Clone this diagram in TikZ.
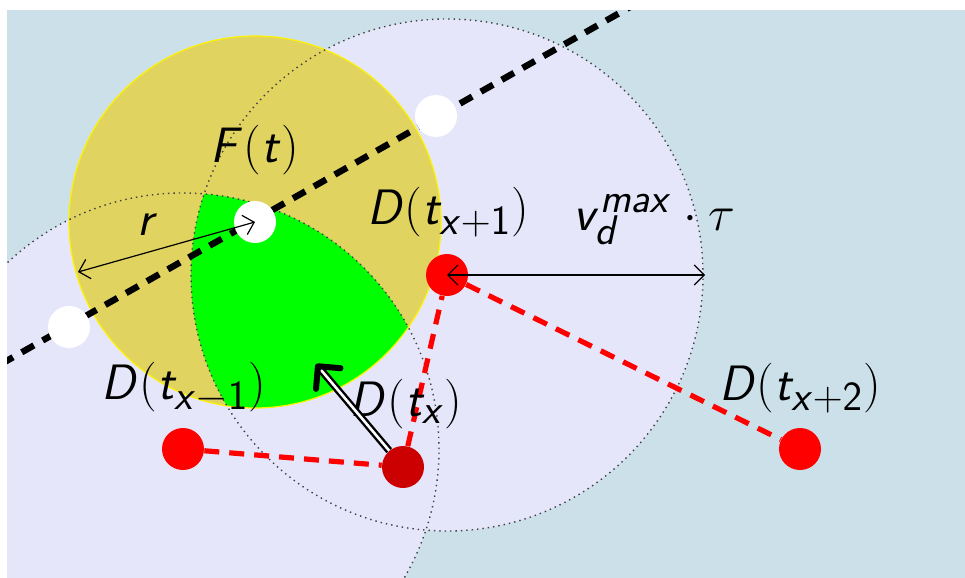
\documentclass[tikz,border=0pt]{standalone}
\usepackage{tikz}
\usetikzlibrary{arrows.meta}
\DeclareMathAlphabet{\mathsfit}{OT1}{cmss}{m}{sl}
\newcommand{\sv}[1]{\mathsfit{#1}}
\definecolor{fondBleu}{RGB}{204,224,234}
\definecolor{lavande}{RGB}{230,230,250}
\definecolor{jauneF}{RGB}{224,211,96}
\definecolor{vertZone}{RGB}{0,255,0}
\definecolor{rougeD}{RGB}{255,0,0}
\definecolor{rougeFonce}{RGB}{204,0,0}

\begin{document}
\begin{tikzpicture}[x=0.5pt,y=-0.5pt,
  point/.style={circle,inner sep=0pt,minimum size=21pt},
  etiq/.style={font=\fontsize{27.5}{32}\selectfont,inner sep=0pt},
  trajet/.style={rougeD,line width=2.6pt,dash pattern=on 7.5pt off 5pt},
  pointille/.style={black!75,line width=0.7pt,dotted},
  cote/.style={black,line width=0.6pt,{Straight Barb[length=5pt]}-{Straight Barb[length=5pt]}}]

  \useasboundingbox (0,0) rectangle (965,578);
  \coordinate (cF)   at (255,222);
  \coordinate (cDm1) at (183,449);
  \coordinate (cDx)  at (403,467);
  \coordinate (cDp1) at (447,275);
  \coordinate (cDp2) at (800,449);
  \coordinate (lA)   at (-20,376);
  \coordinate (lB)   at (660,-10);

  \begin{scope}
    \clip (7,10) rectangle (965,578);
    \fill[fondBleu] (7,10) rectangle (965,578);
    % zones atteignables
    \fill[lavande] (cDm1) circle[radius=128pt];
    \fill[lavande] (cDp1) circle[radius=128pt];
    \fill[jauneF] (cF) circle[radius=93pt];
    \begin{scope}
      \clip (cF) circle[radius=93pt];
      \clip (cDm1) circle[radius=128pt];
      \fill[vertZone] (cDp1) circle[radius=128pt];
    \end{scope}
    \draw[yellow,line width=0.6pt] (cF) circle[radius=93pt];
    \draw[pointille] (cDm1) circle[radius=128pt];
    \draw[pointille] (cDp1) circle[radius=128pt];
    \draw[black,line width=3.2pt,dash pattern=on 7pt off 5pt] (lA) -- (lB);
  \end{scope}

  % points
  \node[point,fill=white] (Fdot) at (cF) {};
  \node[point,fill=white] (W1) at (436,116) {};
  \node[point,fill=white] (W2) at (69,327) {};
  \node[point,fill=rougeD] (Dm1) at (cDm1) {};
  \node[point,fill=rougeFonce] (Dx) at (cDx) {};
  \node[point,fill=rougeD] (Dp1) at (cDp1) {};
  \node[point,fill=rougeD] (Dp2) at (cDp2) {};

  \draw[trajet] (Dm1) -- (Dx);
  \draw[trajet] (Dx) -- (Dp1);
  \draw[trajet] (Dp1) -- (Dp2);

  \node[etiq] (lF) at (255,150) {$\sv{F}(\sv{t})$};
  \node[etiq] (lr) at (148,225) {$\sv{r}$};
  \node[etiq] (lDp1) at (448,212) {$\sv{D}(\sv{t}_{\sv{x}+\mathsf{1}})$};
  \node[etiq] (lv) at (654,220) {$\sv{v}_{\sv{d}}^{\sv{max}}\cdot\tau$};
  \node[etiq] (lDm1) at (184,388) {$\sv{D}(\sv{t}_{\sv{x}-\mathsf{1}})$};
  \node[etiq] (lDx) at (406,404) {$\sv{D}(\sv{t}_{\sv{x}})$};
  \node[etiq] (lDp2) at (800,388) {$\sv{D}(\sv{t}_{\sv{x}+\mathsf{2}})$};

  \coordinate (rEnd) at (78,272);
  \coordinate (vEnd) at (705,275);
  \coordinate (pointe) at (316,364);
  \draw[cote] (rEnd) -- (Fdot.center);
  \draw[cote] (Dp1.center) -- (vEnd);
  \draw[black,double=white,double distance=1.3pt,line width=1.2pt,
        -{Straight Barb[length=8pt,width=16pt,line width=3pt,round]}] (Dx) -- (pointe);
\end{tikzpicture}
\end{document}
